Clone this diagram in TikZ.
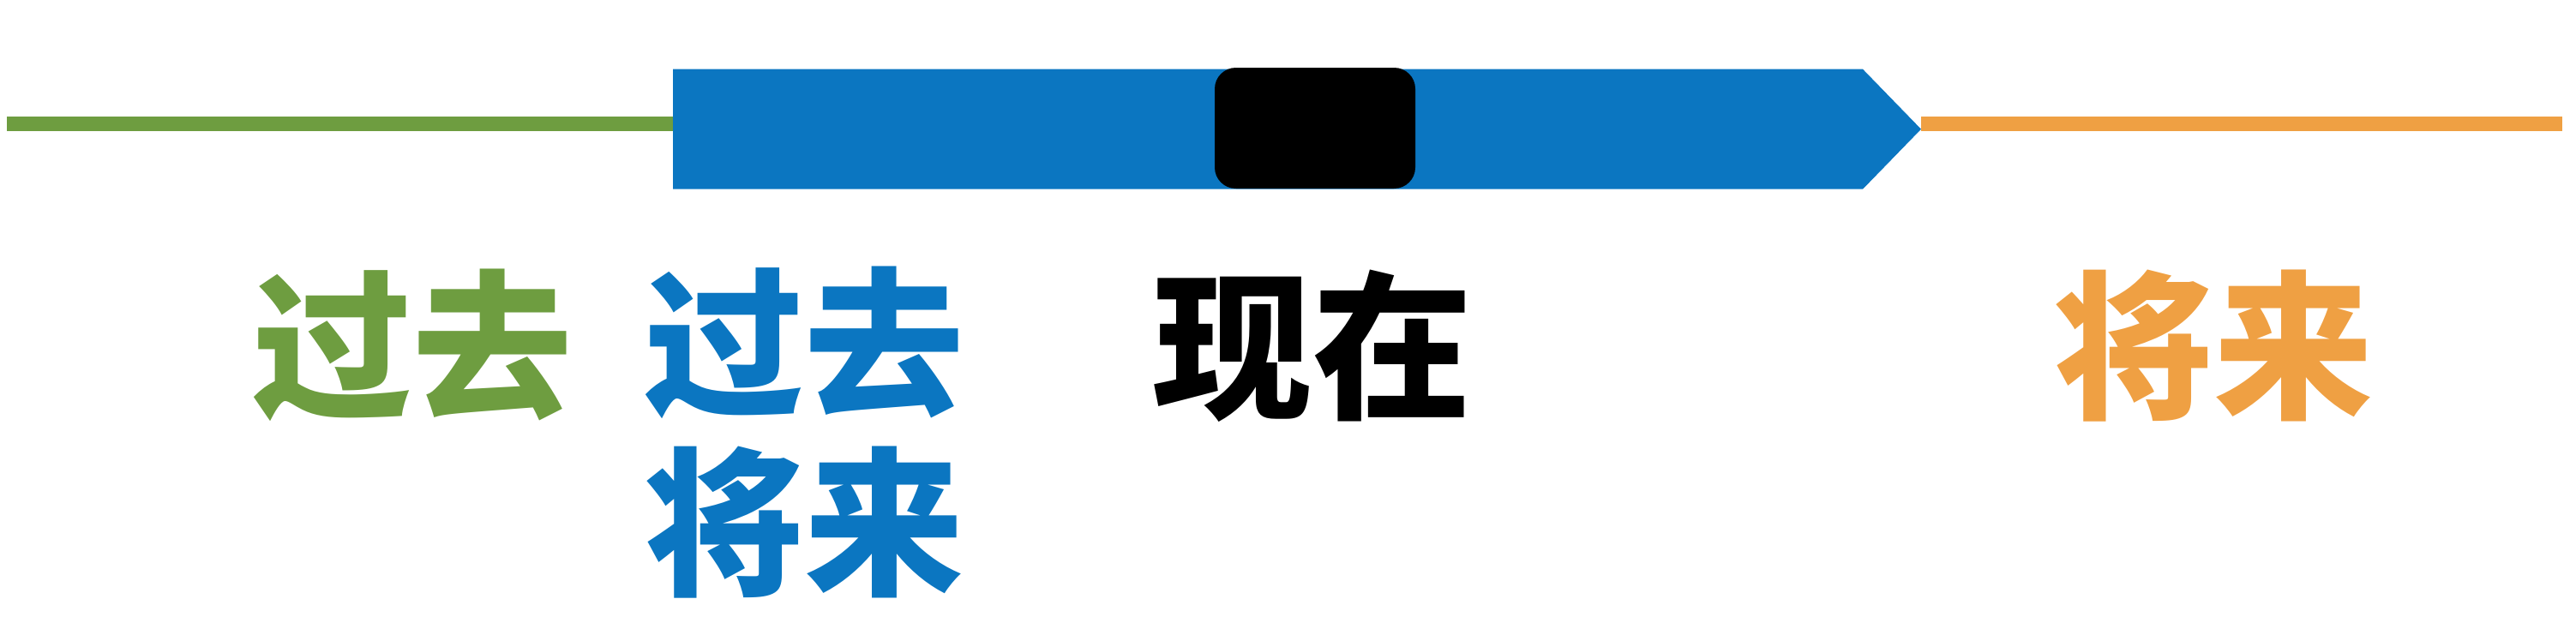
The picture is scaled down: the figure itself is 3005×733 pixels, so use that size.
\documentclass[tikz,border=0pt]{standalone}
\usepackage{fontspec}
\newfontfamily\cjk{Noto Sans CJK SC}
\definecolor{pastgreen}{HTML}{6E9D40}
\definecolor{nowblue}{HTML}{0B76C1}
\definecolor{futureorange}{HTML}{EFA043}
\tikzset{
  timeline/.style={line width=4.8pt},
  label/.style={font=\cjk\bfseries\fontsize{53}{59}\selectfont, inner sep=0pt, anchor=center},
}
\begin{document}
\begin{tikzpicture}[x=0.01cm,y=-0.01cm]
\useasboundingbox (0,0) rectangle (3005,733);
% coordinates
\coordinate (gstart) at (8,144.7);
\coordinate (bl) at (785,144.7);
\coordinate (tip) at (2241,150.7);
\coordinate (oend) at (2989,144.7);
% lines
\draw[timeline, pastgreen] (gstart) -- (bl);
\draw[timeline, futureorange] (tip |- oend) -- (oend);
% blue arrow body
\fill[nowblue] (785,80.7) -- (2173,80.7) -- (tip) -- (2173,220.7) -- (785,220.7) -- cycle;
% black now box
\node[fill=black, rounded corners=7pt, minimum width=234*0.01cm, minimum height=141*0.01cm, inner sep=0pt] (now) at (1534,149.5) {};
% labels
\node[label, text=pastgreen] (past) at (481,403) {过去};
\node[label, text=nowblue] (bothpast) at (938,400) {过去};
\node[label, text=nowblue] (bothfuture) at (938,610) {将来};
\node[label, text=black] (present) at (1531,404) {现在};
\node[label, text=futureorange] (future) at (2582,404) {将来};
\end{tikzpicture}
\end{document}
